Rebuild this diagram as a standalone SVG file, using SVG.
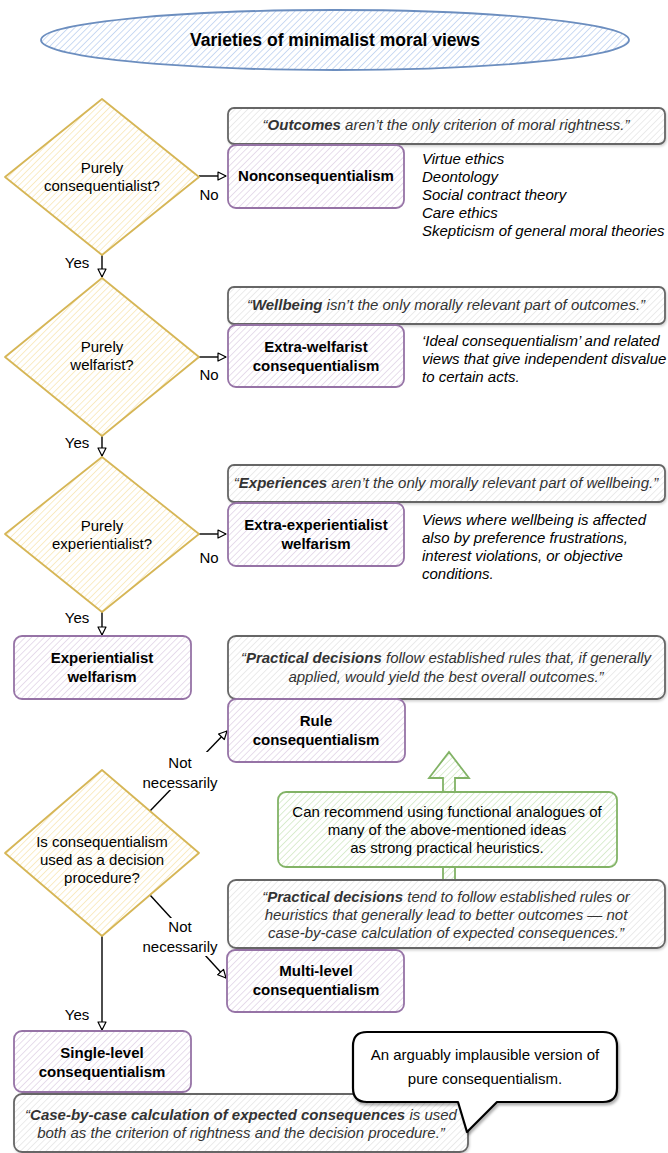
<svg xmlns="http://www.w3.org/2000/svg" width="668" height="1153" viewBox="0 0 668 1153">
  <defs>
    <!-- hatch fills -->
    <pattern id="hB" width="4.5" height="4.5" patternUnits="userSpaceOnUse" patternTransform="rotate(45)">
      <rect width="4.5" height="4.5" fill="#fff"/>
      <line x1="0" y1="0" x2="0" y2="4.5" stroke="#a9c3ec" stroke-width="1.2"/>
    </pattern>
    <pattern id="hY" width="4.5" height="4.5" patternUnits="userSpaceOnUse" patternTransform="rotate(45)">
      <rect width="4.5" height="4.5" fill="#fff"/>
      <line x1="0" y1="0" x2="0" y2="4.5" stroke="#f6e0a0" stroke-width="1.2"/>
    </pattern>
    <pattern id="hP" width="4.5" height="4.5" patternUnits="userSpaceOnUse" patternTransform="rotate(45)">
      <rect width="4.5" height="4.5" fill="#fff"/>
      <line x1="0" y1="0" x2="0" y2="4.5" stroke="#d8c8e0" stroke-width="1.2"/>
    </pattern>
    <pattern id="hG" width="4.5" height="4.5" patternUnits="userSpaceOnUse" patternTransform="rotate(45)">
      <rect width="4.5" height="4.5" fill="#fff"/>
      <line x1="0" y1="0" x2="0" y2="4.5" stroke="#dedede" stroke-width="1.2"/>
    </pattern>
    <pattern id="hN" width="4.5" height="4.5" patternUnits="userSpaceOnUse" patternTransform="rotate(45)">
      <rect width="4.5" height="4.5" fill="#fff"/>
      <line x1="0" y1="0" x2="0" y2="4.5" stroke="#c3e2b3" stroke-width="1.2"/>
    </pattern>
    <filter id="shadow" x="-10%" y="-10%" width="130%" height="140%">
      <feDropShadow dx="1.5" dy="2.5" stdDeviation="1" flood-color="#000" flood-opacity="0.3"/>
    </filter>
    <filter id="soft" x="-5%" y="-10%" width="115%" height="140%">
      <feDropShadow dx="1" dy="1.5" stdDeviation="0.8" flood-color="#000" flood-opacity="0.18"/>
    </filter>
    <marker id="arr" viewBox="0 0 10 10" refX="9" refY="5" markerWidth="10" markerHeight="10" markerUnits="userSpaceOnUse" orient="auto">
      <path d="M1,1 L9,5 L1,9 Z" fill="#fff" stroke="#000" stroke-width="1.2" stroke-linejoin="round"/>
    </marker>
    <style>
      .t { font-family: "Liberation Sans", Arial, Helvetica, sans-serif; font-size: 15px; fill: #000; }
      .c { text-anchor: middle; }
      .b { font-weight: bold; }
      .i { font-style: italic; }
      .q { font-style: italic; fill: #333; }
      .dia { fill: url(#hY); stroke: #d6b656; stroke-width: 1.8; stroke-linejoin: round; }
      .box { fill: url(#hP); stroke: #9673a6; stroke-width: 1.8; }
      .quote { fill: url(#hG); stroke: #666; stroke-width: 1.8; filter: url(#soft); }
      .note { fill: url(#hN); stroke: #82b366; stroke-width: 1.8; }
      .edge { fill: none; stroke: #000; stroke-width: 1.4; }
      .lbl { fill: #fff; }
    </style>
  </defs>

  <!-- title -->
  <g id="title">
    <ellipse cx="335" cy="40" rx="294" ry="30" fill="url(#hB)" stroke="#6c8ebf" stroke-width="1.8"/>
    <text class="t c b" x="335" y="46" style="font-size:17.5px">Varieties of minimalist moral views</text>
  </g>

  <!-- connectors -->
  <g id="connectors">
    <line class="edge" x1="199" y1="176" x2="226" y2="176" marker-end="url(#arr)"/>
    <line class="edge" x1="102" y1="255" x2="102" y2="277" marker-end="url(#arr)"/>
    <line class="edge" x1="199" y1="357" x2="226" y2="357" marker-end="url(#arr)"/>
    <line class="edge" x1="102" y1="436" x2="102" y2="456" marker-end="url(#arr)"/>
    <line class="edge" x1="199" y1="534" x2="226" y2="534" marker-end="url(#arr)"/>
    <line class="edge" x1="102" y1="612" x2="102" y2="635" marker-end="url(#arr)"/>
    <line class="edge" x1="150" y1="811" x2="227" y2="731" marker-end="url(#arr)"/>
    <line class="edge" x1="150" y1="895" x2="226" y2="978" marker-end="url(#arr)"/>
    <line class="edge" x1="102" y1="936" x2="102" y2="1030" marker-end="url(#arr)"/>
    <!-- edge labels -->
    <rect class="lbl" x="140" y="752" width="80" height="38"/>
    <text class="t c" x="180" y="768">Not</text>
    <text class="t c" x="180" y="788">necessarily</text>
    <rect class="lbl" x="140" y="918" width="80" height="38"/>
    <text class="t c" x="180" y="932">Not</text>
    <text class="t c" x="180" y="952">necessarily</text>
    <text class="t c" x="209" y="200">No</text>
    <text class="t c" x="209" y="380">No</text>
    <text class="t c" x="209" y="563">No</text>
    <text class="t c" x="77" y="268">Yes</text>
    <text class="t c" x="77" y="448">Yes</text>
    <text class="t c" x="77" y="623">Yes</text>
    <text class="t c" x="77" y="1020">Yes</text>
  </g>

  <!-- decisions -->
  <g id="q-conseq">
    <polygon class="dia" points="102,99 199,177 102,255 5,177"/>
    <text class="t c" x="102" y="173">Purely</text>
    <text class="t c" x="102" y="191">consequentialist?</text>
  </g>
  <g id="q-welfare">
    <polygon class="dia" points="102,278 199,357 102,436 5,357"/>
    <text class="t c" x="102" y="352">Purely</text>
    <text class="t c" x="102" y="370">welfarist?</text>
  </g>
  <g id="q-experience">
    <polygon class="dia" points="102,457 199,534 102,612 5,534"/>
    <text class="t c" x="102" y="531">Purely</text>
    <text class="t c" x="102" y="549">experientialist?</text>
  </g>
  <g id="q-procedure">
    <polygon class="dia" points="102,770 199,853 102,936 5,853"/>
    <text class="t c" x="102" y="847">Is consequentialism</text>
    <text class="t c" x="102" y="865">used as a decision</text>
    <text class="t c" x="102" y="883">procedure?</text>
  </g>

  <!-- row 1 -->
  <g id="quote-outcomes">
    <rect class="quote" x="228" y="108" width="437" height="36" rx="6"/>
    <text class="t c q" x="446" y="130">“<tspan class="b">Outcomes</tspan> aren’t the only criterion of moral rightness.”</text>
  </g>
  <g id="nonconseq">
    <rect class="box" x="228" y="145" width="176" height="63" rx="8"/>
    <text class="t c b" x="316" y="181">Nonconsequentialism</text>
  </g>
  <g id="nonconseq-list">
    <text class="t i" x="422" y="164">Virtue ethics</text>
    <text class="t i" x="422" y="182">Deontology</text>
    <text class="t i" x="422" y="200">Social contract theory</text>
    <text class="t i" x="422" y="218">Care ethics</text>
    <text class="t i" x="422" y="236">Skepticism of general moral theories</text>
  </g>

  <!-- row 2 -->
  <g id="quote-wellbeing">
    <rect class="quote" x="228" y="287" width="437" height="37" rx="6"/>
    <text class="t c q" x="446" y="310">“<tspan class="b">Wellbeing</tspan> isn’t the only morally relevant part of outcomes.”</text>
  </g>
  <g id="extra-welfarist">
    <rect class="box" x="228" y="325" width="176" height="62" rx="8"/>
    <text class="t c b" x="316" y="352">Extra-welfarist</text>
    <text class="t c b" x="316" y="371">consequentialism</text>
  </g>
  <g id="extra-welfarist-desc">
    <text class="t i" x="422" y="346">‘Ideal consequentialism’ and related</text>
    <text class="t i" x="422" y="364">views that give independent disvalue</text>
    <text class="t i" x="422" y="382">to certain acts.</text>
  </g>

  <!-- row 3 -->
  <g id="quote-experiences">
    <rect class="quote" x="228" y="465" width="437" height="37" rx="6"/>
    <text class="t c q" x="446" y="488">“<tspan class="b">Experiences</tspan> aren’t the only morally relevant part of wellbeing.”</text>
  </g>
  <g id="extra-experientialist">
    <rect class="box" x="228" y="503" width="176" height="63" rx="8"/>
    <text class="t c b" x="316" y="530">Extra-experientialist</text>
    <text class="t c b" x="316" y="549">welfarism</text>
  </g>
  <g id="extra-experientialist-desc">
    <text class="t i" x="422" y="525">Views where wellbeing is affected</text>
    <text class="t i" x="422" y="543">also by preference frustrations,</text>
    <text class="t i" x="422" y="561">interest violations, or objective</text>
    <text class="t i" x="422" y="579">conditions.</text>
  </g>

  <g id="experientialist">
    <rect class="box" x="14" y="636" width="177" height="63" rx="8"/>
    <text class="t c b" x="102" y="663">Experientialist</text>
    <text class="t c b" x="102" y="682">welfarism</text>
  </g>

  <!-- rule consequentialism -->
  <g id="quote-rule">
    <rect class="quote" x="228" y="636" width="437" height="63" rx="8"/>
    <text class="t c q" x="446" y="663">“<tspan class="b">Practical decisions</tspan> follow established rules that, if generally</text>
    <text class="t c q" x="446" y="682">applied, would yield the best overall outcomes.”</text>
  </g>
  <g id="rule">
    <rect class="box" x="228" y="699" width="177" height="63" rx="8"/>
    <text class="t c b" x="316" y="726">Rule</text>
    <text class="t c b" x="316" y="745">consequentialism</text>
  </g>

  <!-- heuristics note with block arrow behind it -->
  <g id="heuristics">
    <polygon class="note" points="443,880 443,778 429,778 449,752 469,778 455,778 455,880"/>
    <rect class="note" x="278" y="792" width="339" height="75" rx="8"/>
    <text class="t c" x="447" y="817">Can recommend using functional analogues of</text>
    <text class="t c" x="447" y="835">many of the above-mentioned ideas</text>
    <text class="t c" x="447" y="853">as strong practical heuristics.</text>
  </g>

  <!-- multi-level -->
  <g id="quote-multi">
    <rect class="quote" x="228" y="880" width="437" height="68" rx="8"/>
    <text class="t c q" x="446" y="902">“<tspan class="b">Practical decisions</tspan> tend to follow established rules or</text>
    <text class="t c q" x="446" y="920">heuristics that generally lead to better outcomes — not</text>
    <text class="t c q" x="446" y="938">case-by-case calculation of expected consequences.”</text>
  </g>
  <g id="multi-level">
    <rect class="box" x="227" y="950" width="177" height="62" rx="8"/>
    <text class="t c b" x="316" y="976">Multi-level</text>
    <text class="t c b" x="316" y="995">consequentialism</text>
  </g>

  <!-- single-level -->
  <g id="single-level">
    <rect class="box" x="14" y="1031" width="177" height="61" rx="8"/>
    <text class="t c b" x="102" y="1058">Single-level</text>
    <text class="t c b" x="102" y="1077">consequentialism</text>
  </g>
  <g id="quote-single">
    <rect class="quote" x="14" y="1094" width="454" height="58" rx="8"/>
    <text class="t c q" x="241" y="1120">“<tspan class="b">Case-by-case calculation of expected consequences</tspan> is used</text>
    <text class="t c q" x="241" y="1138">both as the criterion of rightness and the decision procedure.”</text>
  </g>

  <g id="callout">
    <path d="M367,1032 H603 Q617,1032 617,1046 V1088 Q617,1102 603,1102 H497 L467,1132 L458,1102 H367 Q353,1102 353,1088 V1046 Q353,1032 367,1032 Z" fill="#fff" stroke="#000" stroke-width="2.2" stroke-linejoin="round" filter="url(#shadow)"/>
    <text class="t c" x="485" y="1060">An arguably implausible version of</text>
    <text class="t c" x="485" y="1084">pure consequentialism.</text>
  </g>
</svg>
